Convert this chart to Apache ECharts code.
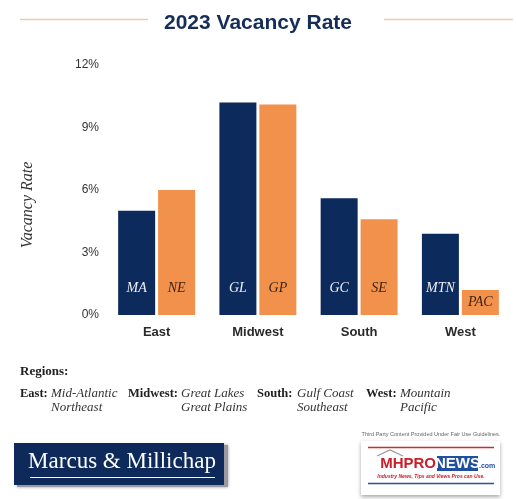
<!DOCTYPE html>
<html><head><meta charset="utf-8">
<script src="https://cdn.jsdelivr.net/npm/echarts@6/dist/echarts.min.js"></script>
<style>html,body{margin:0;padding:0;background:#fff}#c{width:516px;height:499px}</style>
</head><body><div id="c"></div>
<script>
const categories = ['East', 'Midwest', 'South', 'West'];
const firstLabels = ['MA', 'GL', 'GC', 'MTN'];
const firstValues = [5.0, 10.2, 5.6, 3.9];
const secondLabels = ['NE', 'GP', 'SE', 'PAC'];
const secondValues = [6.0, 10.1, 4.6, 1.2];
const yTicks = ['0%', '3%', '6%', '9%', '12%'];
const yAxisTitle = 'Vacancy Rate';
const regionNames = ['East:', 'Midwest:', 'South:', 'West:'];
const subRegionsA = ['Mid-Atlantic', 'Great Lakes', 'Gulf Coast', 'Mountain'];
const subRegionsB = ['Northeast', 'Great Plains', 'Southeast', 'Pacific'];

const NAVY = '#0c2a5b', ORANGE = '#f1914c';
const chart = echarts.init(document.getElementById('c'), null, {renderer: 'canvas'});

function mkData(vals, labs, light) {
  return vals.map((v, i) => ({
    value: v,
    label: {
      formatter: labs[i],
      position: v < 2 ? 'inside' : 'insideBottom',
      distance: 20,
      color: light ? '#eef0f6' : '#3f2414'
    }
  }));
}

const legendX = [[20, 51], [128, 181], [257, 297], [366, 400]];
const serif = '"Liberation Serif", "DejaVu Serif", serif';
const g = [];
g.push({type: 'line', shape: {x1: 20, y1: 19.5, x2: 148, y2: 19.5}, style: {stroke: '#ebcaae', lineWidth: 1.5}});
g.push({type: 'line', shape: {x1: 384, y1: 19.5, x2: 513, y2: 19.5}, style: {stroke: '#ebcaae', lineWidth: 1.5}});
g.push({type: 'text', x: 28, y: 205, rotation: Math.PI / 2, style: {text: yAxisTitle, font: 'italic 16px ' + serif, fill: '#333', align: 'center', verticalAlign: 'middle'}});
g.push({type: 'text', x: 20, y: 372, style: {text: 'Regions:', font: 'bold 13px ' + serif, fill: '#222', verticalAlign: 'middle'}});
regionNames.forEach((r, i) => {
  g.push({type: 'text', x: legendX[i][0], y: 394, style: {text: r, font: 'bold 12.5px ' + serif, fill: '#222', verticalAlign: 'middle'}});
  g.push({type: 'text', x: legendX[i][1], y: 394, style: {text: subRegionsA[i], font: 'italic 13px ' + serif, fill: '#333', verticalAlign: 'middle'}});
  g.push({type: 'text', x: legendX[i][1], y: 408, style: {text: subRegionsB[i], font: 'italic 13px ' + serif, fill: '#333', verticalAlign: 'middle'}});
});
// Marcus & Millichap logo
g.push({type: 'rect', shape: {x: 17, y: 445, width: 211, height: 42}, style: {fill: '#9a9aa0', shadowBlur: 3, shadowColor: 'rgba(0,0,0,0.4)'}});
g.push({type: 'rect', shape: {x: 14, y: 443, width: 210, height: 42}, style: {fill: '#0e2a5a'}});
g.push({type: 'text', x: 122, y: 462, style: {text: 'Marcus & Millichap', font: '23px "Liberation Serif", serif', fill: '#fff', align: 'center', verticalAlign: 'middle'}});
g.push({type: 'line', shape: {x1: 30, y1: 477.5, x2: 215, y2: 477.5}, style: {stroke: '#fff', lineWidth: 1}});
// MHPRONEWS logo
g.push({type: 'text', x: 431, y: 434, style: {text: 'Third Party Content Provided Under Fair Use Guidelines.', font: '5.5px "Liberation Sans", sans-serif', fill: '#666', align: 'center', verticalAlign: 'middle'}});
g.push({type: 'rect', shape: {x: 361, y: 441, width: 139, height: 54}, style: {fill: '#fff', shadowBlur: 4, shadowColor: 'rgba(0,0,0,0.35)', shadowOffsetY: 2}});
g.push({type: 'line', shape: {x1: 368, y1: 447.5, x2: 494, y2: 447.5}, style: {stroke: '#d02a2a', lineWidth: 1.5}});
g.push({type: 'line', shape: {x1: 368, y1: 483.5, x2: 494, y2: 483.5}, style: {stroke: '#2a4fa0', lineWidth: 1.5}});
g.push({type: 'polyline', shape: {points: [[377, 456], [390, 450], [403, 456]]}, style: {stroke: '#999', lineWidth: 1.2, fill: null}});
g.push({type: 'text', x: 436, y: 464, style: {text: 'MHPRO', font: 'bold 15px "Liberation Sans", sans-serif', fill: '#c8202a', align: 'right', verticalAlign: 'middle'}});
g.push({type: 'rect', shape: {x: 437, y: 456, width: 41, height: 15}, style: {fill: '#1f4f9e'}});
g.push({type: 'text', x: 457.5, y: 464, style: {text: 'NEWS', font: 'bold 15px "Liberation Sans", sans-serif', fill: '#fff', align: 'center', verticalAlign: 'middle'}});
g.push({type: 'text', x: 479, y: 466, style: {text: '.com', font: 'bold 7px "Liberation Sans", sans-serif', fill: '#1f4f9e', verticalAlign: 'middle'}});
g.push({type: 'text', x: 431, y: 477, style: {text: 'Industry News, Tips and Views Pros can Use.', font: 'italic bold 5px "Liberation Sans", sans-serif', fill: '#c8202a', align: 'center', verticalAlign: 'middle'}});

chart.setOption({
  animation: false,
  backgroundColor: '#fff',
  title: {
    text: '2023 Vacancy Rate', left: 'center', top: 8,
    textStyle: {fontFamily: '"Liberation Sans", Arial, sans-serif', fontSize: 21, fontWeight: 'bold', color: '#152d57'}
  },
  grid: {left: 106, right: 5, top: 65, bottom: 184, containLabel: false},
  xAxis: {
    type: 'category', data: categories,
    axisLine: {show: false}, axisTick: {show: false},
    axisLabel: {margin: 11, fontSize: 13, fontWeight: 'bold', color: '#2a2a2a', fontFamily: '"Liberation Sans", Arial, sans-serif'}
  },
  yAxis: {
    type: 'value', min: 0, max: 12, interval: 3,
    splitLine: {show: false}, axisLine: {show: false}, axisTick: {show: false},
    axisLabel: {margin: 7, fontSize: 12, color: '#333', fontFamily: '"Liberation Sans", Arial, sans-serif',
      formatter: (v) => yTicks[Math.round(v / 3)]}
  },
  series: [
    {type: 'bar', data: mkData(firstValues, firstLabels, true), itemStyle: {color: NAVY},
      barGap: '8%', barCategoryGap: '24%',
      label: {show: true, fontFamily: serif, fontStyle: 'italic', fontSize: 14}},
    {type: 'bar', data: mkData(secondValues, secondLabels, false), itemStyle: {color: ORANGE},
      barGap: '8%', barCategoryGap: '24%',
      label: {show: true, fontFamily: serif, fontStyle: 'italic', fontSize: 14}}
  ],
  graphic: g
});
</script></body></html>
